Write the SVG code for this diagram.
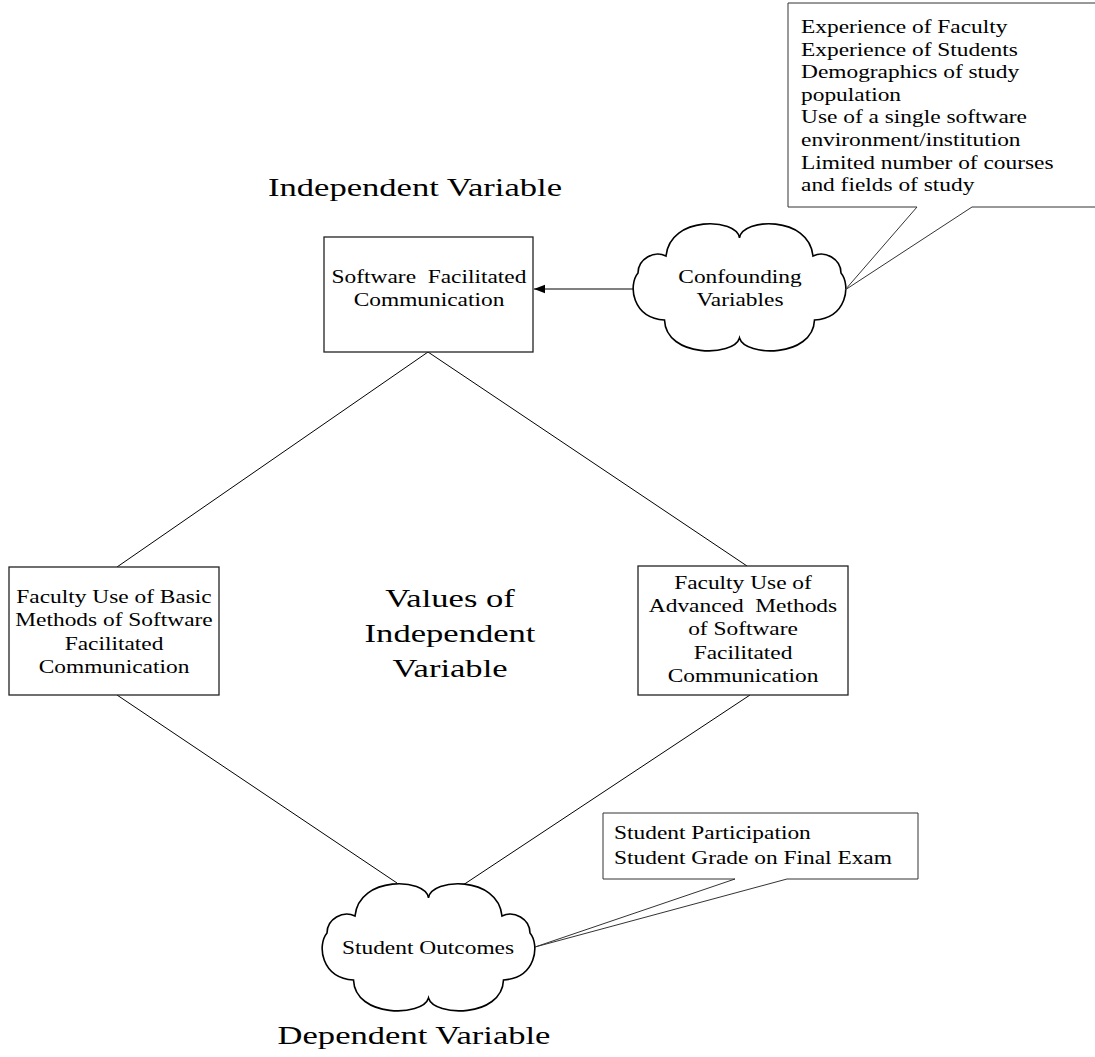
<svg xmlns="http://www.w3.org/2000/svg" width="1095" height="1057" viewBox="0 0 1095 1057">
<style>
.bg{fill:#fff}
.box{fill:#fff;stroke:#222;stroke-width:1.3}
.cloud{fill:#fff;stroke:#000;stroke-width:1.6}
.callout{fill:#fff;stroke:#333;stroke-width:1}
.conn{stroke:#000;stroke-width:1;fill:none}
.t{font-family:"Liberation Serif","Times New Roman",serif;font-size:18px;fill:#000}
.big{font-family:"Liberation Serif","Times New Roman",serif;font-size:26px;fill:#000}
.mid{text-anchor:middle}
</style>
<defs>
<path id="cloudShape" d="M105.5,15 C108,-5 175,-8 179,33 C191,27 207,36 207,50 C217,62 213,95 180.5,97 C179,135 111,134 105.5,115 C100,134 32,135 30.5,97 C-2,95 -6,62 4,50 C4,36 20,27 32,33 C36,-8 103,-5 105.5,15 Z"/>
<marker id="arrow" markerUnits="userSpaceOnUse" markerWidth="12" markerHeight="10" refX="11" refY="5" orient="auto">
<path d="M0,0.8 L11,5 L0,9.2 Z" fill="#000"/>
</marker>
</defs>
<rect class="bg" x="0" y="0" width="1095" height="1057"/>

<g id="connectors">
<line class="conn" x1="428" y1="352" x2="117" y2="567"/>
<line class="conn" x1="428" y1="352" x2="747" y2="566"/>
<line class="conn" x1="117" y1="695" x2="397" y2="883"/>
<line class="conn" x1="750" y1="695" x2="457" y2="889"/>
<line class="conn" x1="634" y1="289" x2="534" y2="289" marker-end="url(#arrow)"/>
</g>

<g id="title-independent">
<text class="big mid" transform="translate(415,196) scale(1.33,1)">Independent Variable</text>
</g>

<g id="node-software">
<rect class="box" x="324" y="237" width="209" height="115"/>
<text class="t mid" transform="translate(429,283) scale(1.3,1)"><tspan x="0" y="0">Software&#160; Facilitated</tspan><tspan x="0" y="23">Communication</tspan></text>
</g>

<g id="node-confounding">
<use href="#cloudShape" class="cloud" transform="translate(634,223)"/>
<text class="t mid" transform="translate(740,283) scale(1.3,1)"><tspan x="0" y="0">Confounding</tspan><tspan x="0" y="23">Variables</tspan></text>
</g>

<g id="callout-confounding">
<path class="callout" d="M788,3 L1100,3 L1100,207 L972,207 L845,290 L917,207 L788,207 Z"/>
<text class="t" transform="translate(801,33) scale(1.3,1)"><tspan x="0" y="0">Experience of Faculty</tspan><tspan x="0" y="22.6">Experience of Students</tspan><tspan x="0" y="45.2">Demographics of study</tspan><tspan x="0" y="67.8">population</tspan><tspan x="0" y="90.4">Use of a single software</tspan><tspan x="0" y="113">environment/institution</tspan><tspan x="0" y="135.6">Limited number of courses</tspan><tspan x="0" y="158.2">and fields of study</tspan></text>
</g>

<g id="node-basic">
<rect class="box" x="9" y="567" width="210" height="128"/>
<text class="t mid" transform="translate(114,603) scale(1.3,1)"><tspan x="0" y="0">Faculty Use of Basic</tspan><tspan x="0" y="23.3">Methods of Software</tspan><tspan x="0" y="46.6">Facilitated</tspan><tspan x="0" y="69.9">Communication</tspan></text>
</g>

<g id="title-values">
<text class="big mid" transform="translate(450,607) scale(1.33,1)"><tspan x="0" y="0">Values of</tspan><tspan x="0" y="35">Independent</tspan><tspan x="0" y="70">Variable</tspan></text>
</g>

<g id="node-advanced">
<rect class="box" x="638" y="566" width="210" height="129"/>
<text class="t mid" transform="translate(743,589) scale(1.3,1)"><tspan x="0" y="0">Faculty Use of</tspan><tspan x="0" y="23.2">Advanced&#160; Methods</tspan><tspan x="0" y="46.4">of Software</tspan><tspan x="0" y="69.6">Facilitated</tspan><tspan x="0" y="92.8">Communication</tspan></text>
</g>

<g id="node-outcomes">
<use href="#cloudShape" class="cloud" transform="translate(323,883)"/>
<text class="t mid" transform="translate(428,954) scale(1.3,1)">Student Outcomes</text>
</g>

<g id="callout-outcomes">
<path class="callout" d="M603,813 L918,813 L918,879 L787,879 L535,947 L735,879 L603,879 Z"/>
<text class="t" transform="translate(614,839) scale(1.3,1)"><tspan x="0" y="0">Student Participation</tspan><tspan x="0" y="25">Student Grade on Final Exam</tspan></text>
</g>

<g id="title-dependent">
<text class="big mid" transform="translate(414,1044) scale(1.33,1)">Dependent Variable</text>
</g>
</svg>
